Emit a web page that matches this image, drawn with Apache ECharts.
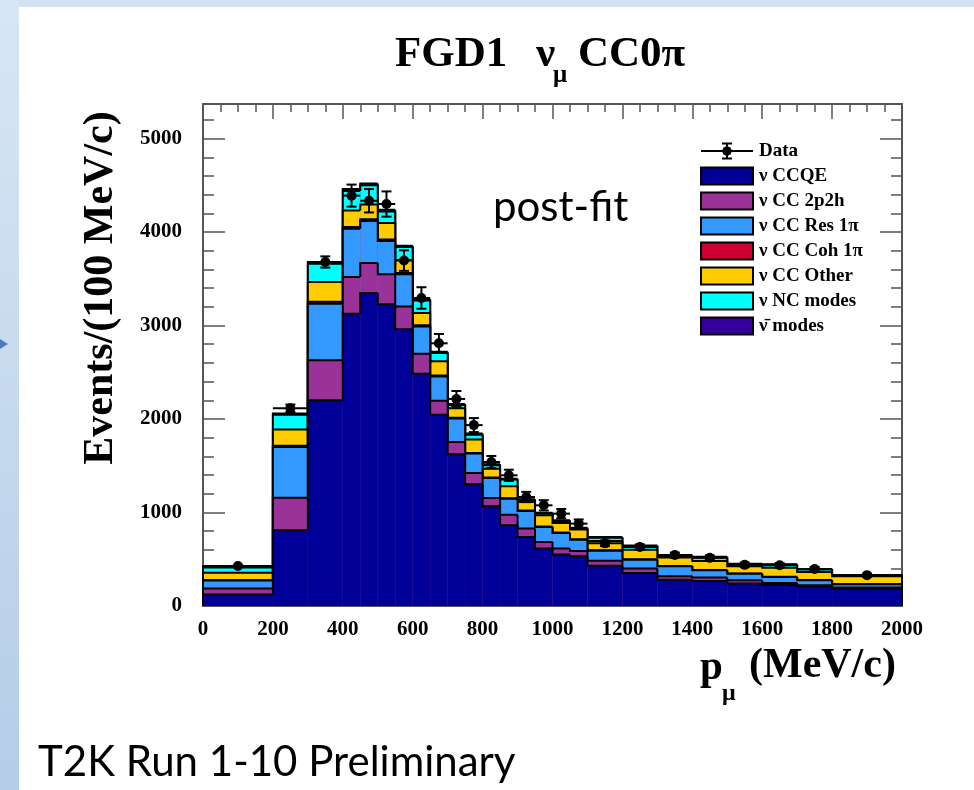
<!DOCTYPE html>
<html>
<head>
<meta charset="utf-8">
<title>FGD1 numu CC0pi</title>
<script src="https://cdn.jsdelivr.net/npm/echarts@6/dist/echarts.min.js"></script>
<style>
  html, body { margin: 0; padding: 0; background: #ffffff; }
  #chart { width: 974px; height: 790px; }
</style>
</head>
<body>
<div id="chart"></div>
<script>
// Muon momentum bin edges (MeV/c)
const binEdges = [0, 200, 300, 400, 450, 500, 550, 600, 650, 700, 750, 800, 850, 900, 950,
                  1000, 1050, 1100, 1200, 1300, 1400, 1500, 1600, 1700, 1800, 2000];

// Post-fit prediction per interaction mode, Events/(100 MeV/c)
const ccqe    = [124, 810, 2200, 3127, 3348, 3227, 2960, 2485, 2045, 1622, 1302, 1066, 863, 738, 614, 550, 532, 430, 353, 282, 267, 240, 225, 211, 186];
const cc2p2h  = [62, 349, 428, 392, 320, 321, 245, 214, 150, 132, 121, 89, 114, 90, 71, 64, 56, 55, 47, 36, 37, 35, 21, 10, 11];
const ccRes1pi = [86, 542, 606, 517, 450, 356, 343, 292, 260, 251, 207, 214, 171, 188, 160, 167, 122, 107, 96, 107, 78, 71, 64, 54, 35];
const ccCoh1pi = [3, 12, 20, 18, 18, 16, 14, 12, 10, 8, 7, 6, 5, 5, 5, 4, 4, 4, 3, 3, 3, 2, 2, 2, 2];
const ccOther = [82, 174, 212, 178, 160, 176, 138, 131, 152, 102, 143, 94, 127, 91, 120, 103, 103, 99, 104, 90, 96, 77, 98, 87, 84];
const ncModes = [55, 158, 194, 208, 204, 124, 140, 135, 89, 35, 53, 36, 72, 23, 20, 21, 11, 35, 37, 17, 39, 20, 30, 26, 7];
const antiNuModes = [12, 15, 20, 20, 20, 20, 15, 13, 14, 10, 12, 10, 10, 8, 8, 8, 8, 8, 7, 6, 6, 6, 6, 6, 5];

// Measured data and its uncertainty
const dataValues = [428, 2115, 3680, 4390, 4335, 4300, 3695, 3295, 2810, 2215, 1935, 1540, 1398, 1166, 1077, 988, 881, 670, 631, 545, 515, 440, 435, 395, 330];
const dataErrors = [12, 40, 60, 118, 125, 135, 110, 115, 100, 85, 75, 65, 60, 55, 55, 50, 45, 30, 28, 26, 25, 24, 23, 22, 15];

// Axis ranges and ticks
const xRange = [0, 2000];
const yRange = [0, 5370];
const xMajorStep = 200;
const yMajorStep = 1000;
const yMinorStep = 200;

const modeNames = ['ν CCQE', 'ν CC 2p2h', 'ν CC Res 1π', 'ν CC Coh 1π', 'ν CC Other', 'ν NC modes', 'ν\u0304 modes'];
const modeColors = ['#000099', '#993399', '#3399ff', '#cc0033', '#ffcc00', '#00ffff', '#330099'];
const modeValues = [ccqe, cc2p2h, ccRes1pi, ccCoh1pi, ccOther, ncModes, antiNuModes];

// Cumulative stack heights, one row per mode
const cumulative = [];
modeValues.forEach((vals, k) => {
  cumulative.push(vals.map((v, i) => (k ? cumulative[k - 1][i] : 0) + v));
});

const nBins = binEdges.length - 1;

function stepSeries(k) {
  const cum = cumulative[k];
  const color = modeColors[k];
  const data = [];
  for (let i = 0; i < nBins; i++) {
    data.push([binEdges[i], binEdges[i + 1], cum[i], i > 0 ? cum[i - 1] : 0, i === nBins - 1 ? 1 : 0]);
  }
  return {
    type: 'custom',
    name: modeNames[k],
    xAxisIndex: 0,
    yAxisIndex: 0,
    itemStyle: { color: color },
    data: data,
    silent: true,
    renderItem: function (params, api) {
      const x0 = api.value(0), x1 = api.value(1), top = api.value(2), prev = api.value(3), last = api.value(4);
      const a = api.coord([x0, 0]);
      const b = api.coord([x1, top]);
      const prevY = api.coord([x0, prev])[1];
      const pts = [[a[0], prevY], [a[0], b[1]], [b[0], b[1]]];
      if (last) pts.push([b[0], a[1]]);
      return {
        type: 'group',
        children: [
          { type: 'rect', shape: { x: a[0], y: b[1], width: b[0] - a[0], height: a[1] - b[1] }, style: { fill: color } },
          { type: 'polyline', shape: { points: pts }, style: { stroke: '#000', lineWidth: 2, fill: null, lineJoin: 'miter' } }
        ]
      };
    }
  };
}

const series = [];
for (let k = modeValues.length - 1; k >= 0; k--) series.push(stepSeries(k));

const dataPoints = dataValues.map((v, i) => [binEdges[i], binEdges[i + 1], v, dataErrors[i]]);
series.push({
  type: 'custom',
  name: 'Data',
  xAxisIndex: 0,
  yAxisIndex: 0,
  z: 5,
  silent: true,
  itemStyle: { color: '#000' },
  data: dataPoints,
  renderItem: function (params, api) {
    const x0 = api.value(0), x1 = api.value(1), v = api.value(2), e = api.value(3);
    const l = api.coord([x0, v]);
    const r = api.coord([x1, v]);
    const cx = (l[0] + r[0]) / 2;
    const hi = api.coord([(x0 + x1) / 2, v + e])[1];
    const lo = api.coord([(x0 + x1) / 2, v - e])[1];
    const ls = { stroke: '#000', lineWidth: 2 };
    return {
      type: 'group',
      children: [
        { type: 'line', shape: { x1: l[0], y1: l[1], x2: r[0], y2: r[1] }, style: ls },
        { type: 'line', shape: { x1: cx, y1: hi, x2: cx, y2: lo }, style: ls },
        { type: 'line', shape: { x1: cx - 5, y1: hi, x2: cx + 5, y2: hi }, style: ls },
        { type: 'line', shape: { x1: cx - 5, y1: lo, x2: cx + 5, y2: lo }, style: ls },
        { type: 'circle', shape: { cx: cx, cy: l[1], r: 5 }, style: { fill: '#000' } }
      ]
    };
  }
});

const frameColor = '#555';
const tickFont = { fontFamily: 'Liberation Serif', fontWeight: 'bold', fontSize: 21, color: '#000' };
const plainNumber = (v) => String(v);

function xAxisDef(pos, showLabel) {
  return {
    type: 'value', position: pos, min: xRange[0], max: xRange[1], interval: xMajorStep,
    axisLine: { show: true, onZero: false, lineStyle: { color: frameColor, width: 2 } },
    axisTick: { show: true, inside: true, length: 15, lineStyle: { color: frameColor, width: 1.5 } },
    minorTick: { show: true, splitNumber: 4, length: 8, lineStyle: { color: frameColor, width: 1.5 } },
    splitLine: { show: false },
    axisLabel: Object.assign({ show: showLabel, margin: 13, formatter: plainNumber }, tickFont)
  };
}
function yAxisDef(pos, step, len, showLabel) {
  return {
    type: 'value', position: pos, min: yRange[0], max: yRange[1], interval: step,
    axisLine: { show: true, onZero: false, lineStyle: { color: frameColor, width: 2 } },
    axisTick: { show: true, inside: true, length: len, lineStyle: { color: frameColor, width: 1.5 } },
    splitLine: { show: false },
    axisLabel: Object.assign({ show: showLabel, margin: 21, showMaxLabel: false, formatter: plainNumber }, tickFont)
  };
}

// Legend icon for the data marker with its error bars (bars plus an octagonal dot)
const dataIcon = 'path://M0,7.5H52V9.5H0Z M25,0H27V17H25Z M21,0H31V2H21Z M21,15H31V17H21Z ' +
  'M26,3.5L29.5,5L31,8.5L29.5,12L26,13.5L22.5,12L21,8.5L22.5,5Z';

const legendData = [{ name: 'Data', icon: dataIcon, itemStyle: { color: '#000', borderWidth: 0 } }];
modeNames.forEach((n, k) => legendData.push({ name: n, icon: 'rect', itemStyle: { color: modeColors[k], borderColor: '#000', borderWidth: 2 } }));

const serif = 'Liberation Serif';
const graphics = [
  // slide background bands
  { type: 'rect', shape: { x: 0, y: 0, width: 974, height: 7 }, style: { fill: '#d3e3f2' }, silent: true },
  { type: 'rect', shape: { x: 0, y: 0, width: 19, height: 790 },
    style: { fill: new echarts.graphic.LinearGradient(0, 0, 0, 1, [{ offset: 0, color: '#d7e6f4' }, { offset: 1, color: '#b5cde8' }]) }, silent: true },
  { type: 'polygon', shape: { points: [[0, 339], [8, 344], [0, 349]] }, style: { fill: '#4a7dbd' }, silent: true },
  // title
  { type: 'text', x: 395, y: 55, style: { text: 'FGD1', font: 'bold 43px ' + serif, fill: '#000', verticalAlign: 'middle', align: 'left' } },
  { type: 'text', x: 536, y: 55, style: { text: 'ν', font: 'bold 43px ' + serif, fill: '#000', verticalAlign: 'middle', align: 'left' } },
  { type: 'text', x: 553, y: 76, style: { text: 'μ', font: 'bold 25px ' + serif, fill: '#000', verticalAlign: 'middle', align: 'left' } },
  { type: 'text', x: 578, y: 55, style: { text: 'CC0π', font: 'bold 43px ' + serif, fill: '#000', verticalAlign: 'middle', align: 'left' } },
  // y axis name
  { type: 'text', x: 101, y: 288, rotation: Math.PI / 2,
    style: { text: 'Events/(100 MeV/c)', font: 'bold 42px ' + serif, fill: '#000', verticalAlign: 'middle', align: 'center' } },
  // x axis name
  { type: 'text', x: 700, y: 668, style: { text: 'p', font: 'bold 41px ' + serif, fill: '#000', verticalAlign: 'middle', align: 'left' } },
  { type: 'text', x: 722, y: 694, style: { text: 'μ', font: 'bold 24px ' + serif, fill: '#000', verticalAlign: 'middle', align: 'left' } },
  { type: 'text', x: 749, y: 666, style: { text: '(MeV/c)', font: 'bold 42px ' + serif, fill: '#000', verticalAlign: 'middle', align: 'left' } },
  // annotations
  { type: 'text', x: 493, y: 207, style: { text: 'post-fit', font: '42px Lato', fill: '#000', verticalAlign: 'middle', align: 'left' } },
  { type: 'text', x: 38, y: 762, style: { text: 'T2K Run 1-10 Preliminary', font: '42px Lato', fill: '#000', verticalAlign: 'middle', align: 'left' } }
];

const chart = echarts.init(document.getElementById('chart'), null, { renderer: 'canvas' });
chart.setOption({
  animation: false,
  backgroundColor: '#ffffff',
  grid: { left: 203, right: 72, top: 104, bottom: 184, containLabel: false },
  xAxis: [xAxisDef('bottom', true), xAxisDef('top', false)],
  yAxis: [
    yAxisDef('left', yMajorStep, 22, true),
    yAxisDef('left', yMinorStep, 11, false),
    yAxisDef('right', yMajorStep, 22, false),
    yAxisDef('right', yMinorStep, 11, false)
  ],
  legend: {
    orient: 'vertical', left: 695, top: 136,
    itemWidth: 52, itemHeight: 17, itemGap: 5,
    selectedMode: false,
    data: legendData,
    textStyle: { fontFamily: serif, fontWeight: 'bold', fontSize: 19, lineHeight: 20, color: '#000', padding: [0, 0, 0, 1] }
  },
  graphic: graphics,
  series: series
});
</script>
</body>
</html>
